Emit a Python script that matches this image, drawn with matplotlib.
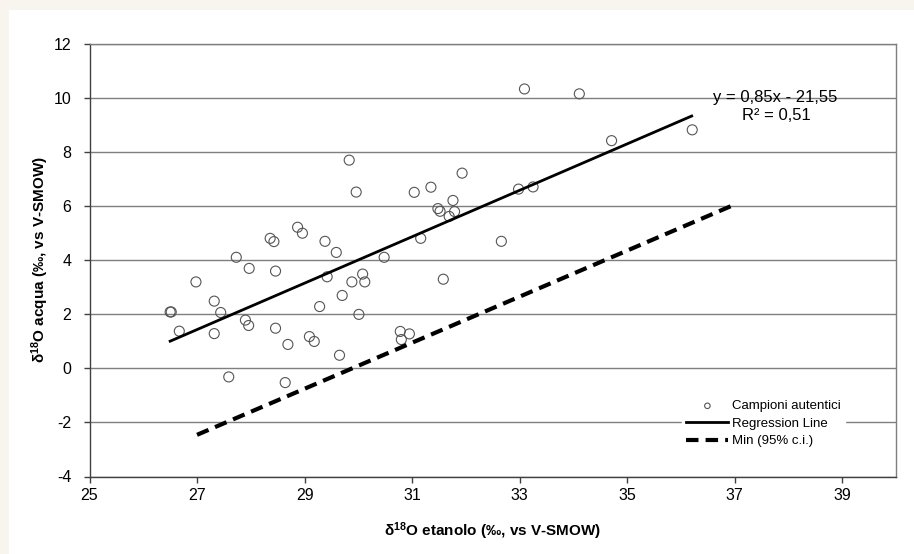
import matplotlib
matplotlib.use("Agg")

import matplotlib.pyplot as plt
from matplotlib.patches import Rectangle

# campioni autentici: d18O etanolo (x) vs d18O acqua (y)
etanolo = [26.50, 26.52, 26.67, 26.98, 27.32, 27.44, 27.32, 27.73, 27.97, 27.59,
           27.90, 27.96, 28.36, 28.43, 28.46, 28.46, 28.69, 28.64, 28.87, 28.96,
           29.38, 29.59, 29.42, 29.28, 29.09, 29.18, 29.65, 29.70, 29.88, 30.08,
           30.12, 30.01, 30.48, 30.78, 30.95, 30.80, 29.83, 29.96, 31.04, 31.35,
           31.93, 31.76, 31.48, 31.52, 31.79, 31.69, 31.16, 31.58, 32.66, 32.98,
           33.25, 33.09, 34.11, 34.71, 36.21]
acqua = [2.08, 2.08, 1.37, 3.19, 2.48, 2.06, 1.28, 4.10, 3.69, -0.32,
         1.78, 1.58, 4.80, 4.68, 3.59, 1.48, 0.88, -0.53, 5.21, 4.99,
         4.69, 4.28, 3.38, 2.28, 1.17, 0.99, 0.48, 2.69, 3.19, 3.48,
         3.19, 1.99, 4.10, 1.36, 1.27, 1.06, 7.69, 6.51, 6.50, 6.69,
         7.21, 6.20, 5.90, 5.80, 5.79, 5.61, 4.80, 3.29, 4.69, 6.62,
         6.70, 10.32, 10.14, 8.41, 8.81]

reg_x = [26.5, 36.2]
reg_y = [1.00, 9.32]
min_x = [27.0, 37.0]
min_y = [-2.46, 6.05]

x_ticks = [25, 27, 29, 31, 33, 35, 37, 39]
y_ticks = [-4, -2, 0, 2, 4, 6, 8, 10, 12]

plt.rcParams["font.family"] = ["Liberation Sans", "DejaVu Sans"]
plt.rcParams["mathtext.default"] = "regular"
plt.rcParams["axes.unicode_minus"] = False

fig = plt.figure(figsize=(9.14, 5.54), dpi=100)
fig.patch.set_facecolor("#f8f5ef")
fig.patches.append(Rectangle((9 / 914, 0), 1, 1 - 10 / 554, transform=fig.transFigure,
                             facecolor="white", edgecolor="none", zorder=-10))

ax = fig.add_axes([89.5 / 914, 1 - 476.5 / 554, 806.5 / 914, 433 / 554])
ax.set_zorder(1)
ax.set_facecolor("white")

ax.scatter(etanolo, acqua, s=52, facecolors="none", edgecolors="#555555",
           linewidths=0.8, zorder=3, label="Campioni autentici")
ax.plot(reg_x, reg_y, color="black", lw=2, zorder=4, label="Regression Line")
ax.plot(min_x, min_y, color="black", lw=3, ls=(0, (3, 1.7)), zorder=4,
        label="Min (95% c.i.)")

ax.set_xlim(25, 40)
ax.set_ylim(-4, 12)
ax.set_xticks(x_ticks)
ax.set_yticks(y_ticks)
ax.yaxis.grid(True, color="#7f7f7f", lw=1)
ax.set_axisbelow(True)
for s in ax.spines.values():
    s.set_color("#7f7f7f")
    s.set_linewidth(1)
ax.spines["left"].set_color("#404040")
ax.spines["bottom"].set_color("#404040")
ax.tick_params(direction="out", length=4, width=1, color="#404040",
               labelsize=11.5)
ax.tick_params(axis="y", pad=9)
ax.tick_params(axis="x", pad=4)

ax.set_xlabel("δ$^{18}$O etanolo (‰, vs V-SMOW)", fontsize=11, fontweight="bold",
              labelpad=13)
ax.set_ylabel("δ$^{18}$O acqua (‰, vs V-SMOW)", fontsize=11, fontweight="bold",
              labelpad=2)

ax.text(0.7735, 0.876, "y = 0,85x - 21,55", transform=ax.transAxes, fontsize=12,
        va="center", ha="left")
ax.text(0.8095, 0.833, "R² = 0,51", transform=ax.transAxes, fontsize=12,
        va="center", ha="left")

leg = ax.legend(loc="center", bbox_to_anchor=(0.836, 0.122), fontsize=9.5,
                frameon=True, fancybox=False, edgecolor="white", facecolor="white",
                framealpha=1, markerscale=0.55, handlelength=3.2, handletextpad=0.3,
                labelspacing=0.4, borderpad=0.3)
leg.set_zorder(5)

fig.savefig("out.png", dpi=100)
